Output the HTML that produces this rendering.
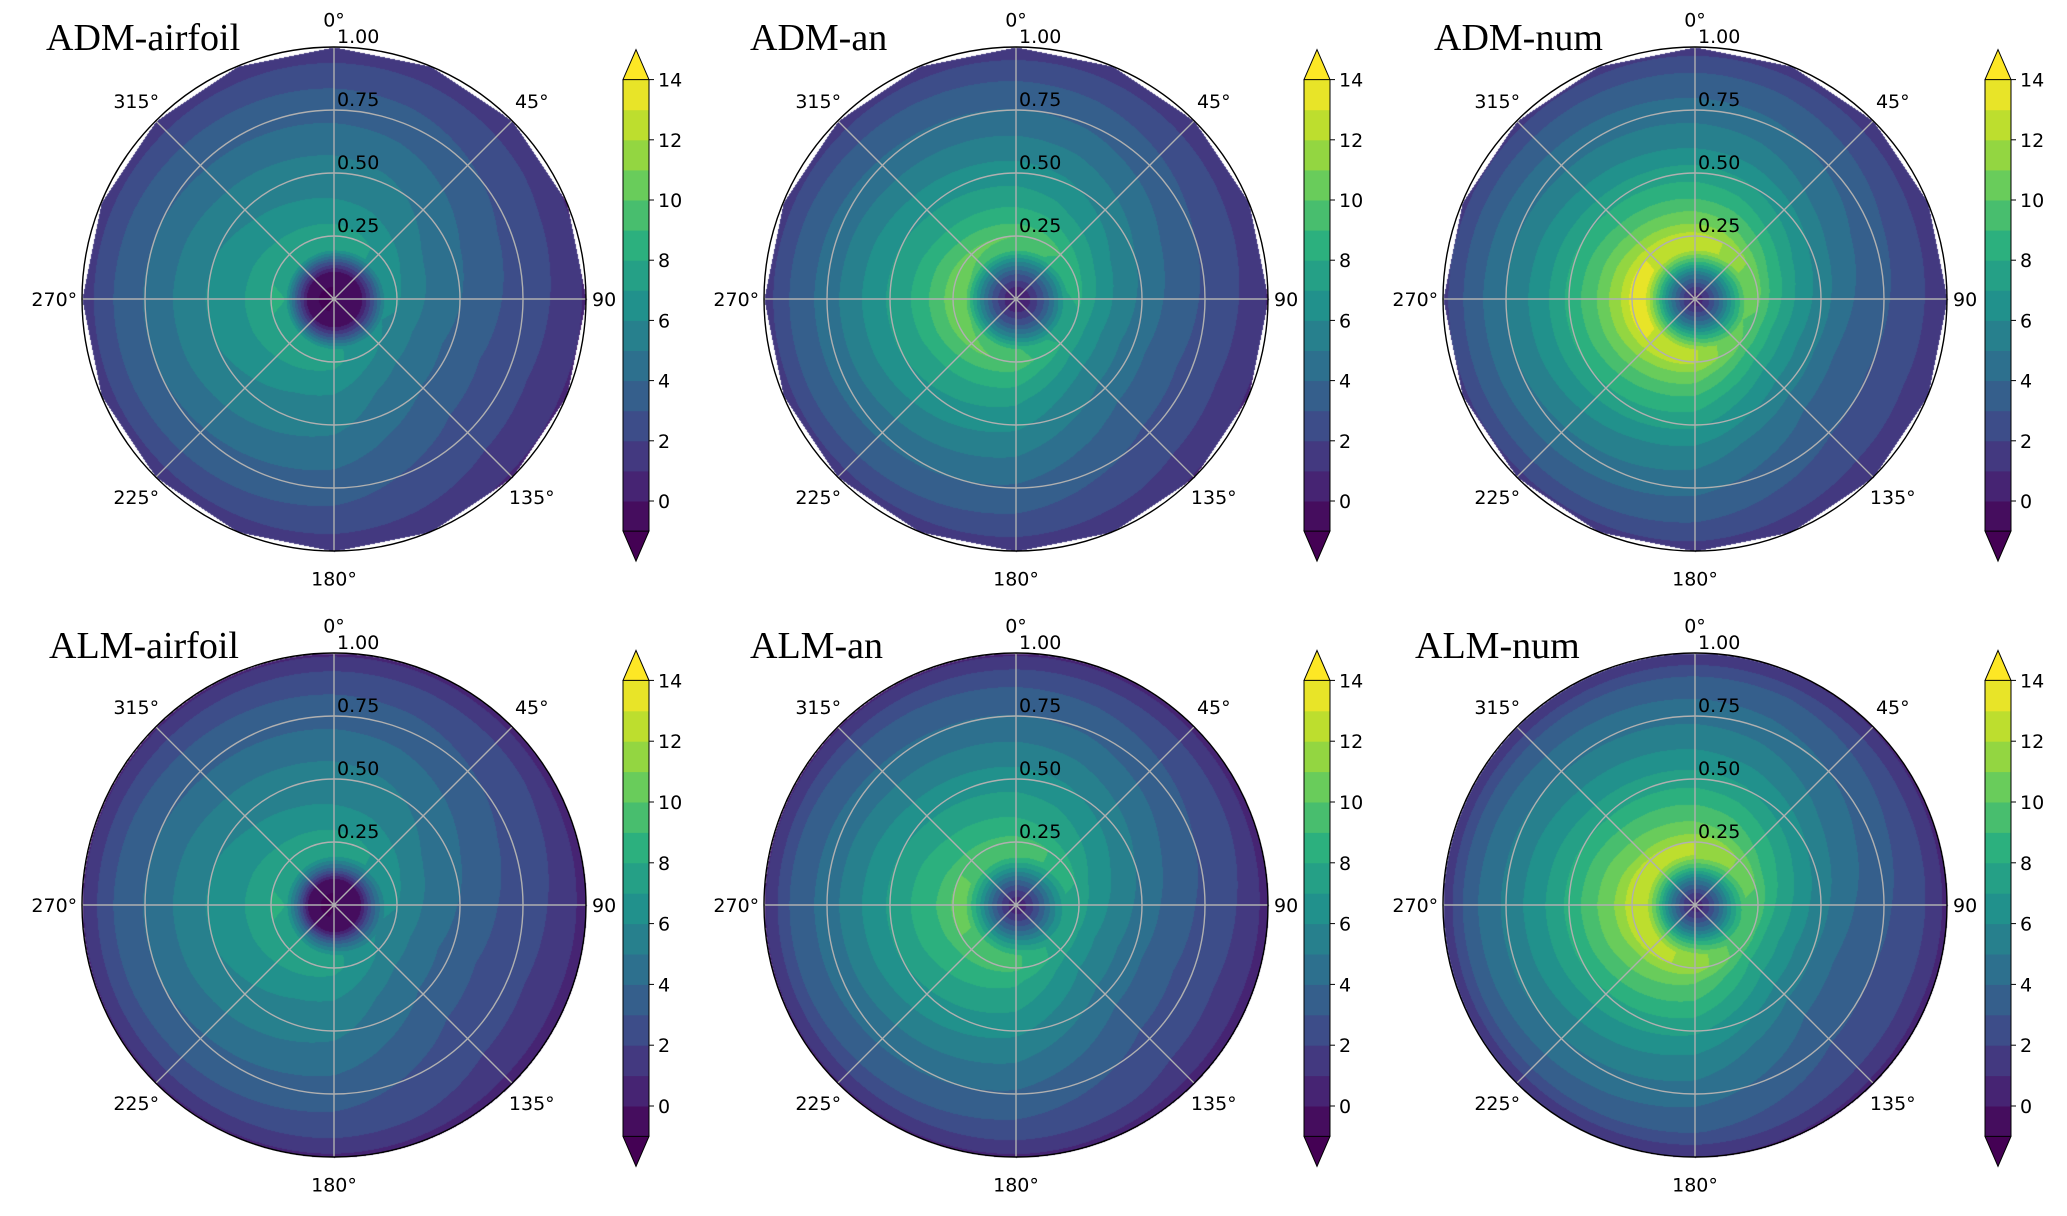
<!DOCTYPE html>
<html><head><meta charset="utf-8"><style>
html,body{margin:0;padding:0;background:#fff;}
#wrap{position:relative;width:2067px;height:1216px;overflow:hidden;}
canvas,svg{position:absolute;left:0;top:0;}
text{font-family:"DejaVu Sans","Liberation Sans",sans-serif;font-size:19px;fill:#000;}
.title{font-family:"Liberation Serif","DejaVu Serif",serif;font-size:38px;}
</style></head><body>
<div id="wrap">
<canvas id="cv" width="2067" height="1216"></canvas>
<svg id="sv" width="2067" height="1216" xmlns="http://www.w3.org/2000/svg"></svg>
</div>
<script>
// ---- data ----
const radii = [0,0.05,0.1,0.15,0.2,0.25,0.3,0.4,0.5,0.6,0.7,0.8,0.9,1.0];
const anglesDeg = [0,22.5,45,67.5,90,112.5,135,157.5,180,202.5,225,247.5,270,292.5,315,337.5];
const panelTitles = ["ADM-airfoil","ADM-an","ADM-num","ALM-airfoil","ALM-an","ALM-num"];
const profAdmAirfoil = [-1,-1,-0.8,3,7.5,7.5,7,6,5.5,4.8,4,3.3,2.5,1.2];
const profAdmAn = [0,1,3,6,9.5,10,9,7.5,6.5,5.5,4.5,3.6,2.7,1.3];
const profAdmNum = [0,2,5,9,12.5,12.5,11,9,7.5,6,5,4,3,1.5];
const profAlmAirfoil = [-1,-1,-0.5,4,7.5,7.5,7,6,5.5,4.8,4,3.3,2.5,0.8];
const profAlmAn = [0,1.5,4,7,9.5,9.5,8.5,7.5,6.5,5.5,4.5,3.6,2.7,0.8];
const profAlmNum = [0,2,5,9,12,12,10.5,9,7.5,6.2,5.2,4.2,3.2,1];
const angAdm = [1.0,0.95,0.85,0.75,0.7,0.65,0.68,0.8,0.95,1.0,1.05,1.1,1.12,1.1,1.05,1.02];
const angAlm = [1.0,0.95,0.85,0.75,0.68,0.63,0.66,0.8,0.95,1.0,1.05,1.1,1.12,1.1,1.05,1.02];
const cbarTicks = [0,2,4,6,8,10,12,14];
const levelMin = -1, levelMax = 14;
const rTicks = [0.25,0.5,0.75];
const rTickLabels = ["0.25","0.50","0.75","1.00"];
const thetaLabels = ["0°","45°","90","135°","180°","225°","270°","315°"];

const profiles = [profAdmAirfoil,profAdmAn,profAdmNum,profAlmAirfoil,profAlmAn,profAlmNum];
const angFactors = [angAdm,angAdm,angAdm,angAlm,angAlm,angAlm];

// ---- layout ----
const R = 252;
const colX = [334,1016,1695];
const rowY = [299,905];
const cbX = [623,1304,1985];
const cbZeroY = [501,1106];
const cbUnit = [30.1,30.4];
const titlePos = [[46,50],[750,50],[1434,50],[49,658],[750,658],[1415,658]];

const vir = [[68,1,84],[71,45,123],[59,82,139],[44,114,142],[33,145,140],[40,174,128],[94,201,98],[173,220,48],[253,231,37]];
function viridis(t){t=Math.max(0,Math.min(1,t));const s=t*8,i=Math.min(7,Math.floor(s)),f=s-i;const a=vir[i],b=vir[i+1];return [a[0]+(b[0]-a[0])*f,a[1]+(b[1]-a[1])*f,a[2]+(b[2]-a[2])*f].map(Math.round);}
const nBands = levelMax-levelMin;
function bandColor(v){
  if(v<levelMin) return viridis(0);
  if(v>=levelMax) return viridis(1);
  const k=Math.floor(v-levelMin);
  return viridis((k+0.5)/nBands);
}
function interp(xs,ys,x){
  if(x<=xs[0])return ys[0];
  for(let i=1;i<xs.length;i++){if(x<=xs[i]){const f=(x-xs[i-1])/(xs[i]-xs[i-1]);return ys[i-1]+(ys[i]-ys[i-1])*f;}}
  return ys[ys.length-1];
}
function angInterp(arr,deg){
  const s=deg/22.5,i=Math.floor(s)%16,f=s-Math.floor(s);return arr[i]+(arr[(i+1)%16]-arr[i])*f;
}

// ---- draw fields ----
const ctx=document.getElementById('cv').getContext('2d');
const img=ctx.createImageData(2067,1216);
const d=img.data;
for(let i=0;i<d.length;i+=4){d[i]=255;d[i+1]=255;d[i+2]=255;d[i+3]=255;}
const cosHalf=Math.cos(Math.PI/16);
for(let p=0;p<6;p++){
  const cx=colX[p%3],cy=rowY[Math.floor(p/3)],poly=p<3;
  for(let y=Math.floor(cy-R);y<=cy+R;y++){
    for(let x=Math.floor(cx-R);x<=cx+R;x++){
      const dx=x-cx,dy=y-cy,rr=Math.sqrt(dx*dx+dy*dy)/R;
      if(rr>1)continue;
      let th=Math.atan2(dx,-dy)*180/Math.PI;if(th<0)th+=360;
      if(poly){const a=((th%22.5)-11.25)*Math.PI/180;if(rr*Math.cos(a)>cosHalf)continue;}
      const f=angInterp(angFactors[p],th);
      const w=0.35+0.65*Math.min(1,rr/0.6);
      const v=interp(radii,profiles[p],rr)*(1+(f-1)*w);
      const c=bandColor(v);const o=(y*2067+x)*4;d[o]=c[0];d[o+1]=c[1];d[o+2]=c[2];
    }
  }
}
ctx.putImageData(img,0,0);

// ---- overlay ----
const NS="http://www.w3.org/2000/svg";
const sv=document.getElementById('sv');
function mk(tag,attrs,parent){const e=document.createElementNS(NS,tag);for(const k in attrs)e.setAttribute(k,attrs[k]);(parent||sv).appendChild(e);return e;}
for(let p=0;p<6;p++){
  const row=Math.floor(p/3);
  const cx=colX[p%3],cy=rowY[row];
  const g=mk('g',{});
  
  
  rTicks.forEach(rv=>{const c=mk('circle',{cx:cx,cy:cy,r:rv*R,fill:'none',stroke:'#b0b0b0','stroke-width':1.4},g);
    });
  for(let k=0;k<8;k++){const a=k*Math.PI/4;const l=mk('line',{x1:cx,y1:cy,x2:cx+R*Math.sin(a),y2:cy-R*Math.cos(a),stroke:'#b0b0b0','stroke-width':1.4},g);
    }
  const oc=mk('circle',{cx:cx,cy:cy,r:R,fill:'none',stroke:'#000','stroke-width':1.4},g);
  
  [0.25,0.5,0.75,1.0].forEach((rv,i)=>{const t=mk('text',{x:cx+3,y:cy-rv*R-4},g);t.textContent=rTickLabels[i];
    });
  for(let k=0;k<8;k++){const a=k*Math.PI/4;const rl=R*1.11;
    const t=mk('text',{x:cx+rl*Math.sin(a),y:cy-rl*Math.cos(a)+7,'text-anchor':k==2?'start':'middle'},g);
    if(k==2)t.setAttribute('x',cx+R+6);
    t.textContent=thetaLabels[k];
    }
  const tt=mk('text',{x:titlePos[p][0],y:titlePos[p][1],'class':'title'},g);tt.textContent=panelTitles[p];
  
  // colorbar
  const bx=cbX[p%3],bw=26;
  const yOf=v=>cbZeroY[row]-v*cbUnit[row];
  const cb=mk('g',{},sv);
  
  for(let k=0;k<nBands;k++){const v0=levelMin+k;const c=bandColor(v0+0.5);
    const r=mk('rect',{x:bx,y:yOf(v0+1),width:bw,height:yOf(v0)-yOf(v0+1)+0.5,fill:`rgb(${c})`},cb);
    }
  const ct=bandColor(levelMax+1),cl=bandColor(levelMin-1);
  const tri1=mk('polygon',{points:`${bx},${yOf(levelMax)} ${bx+bw/2},${yOf(levelMax)-30} ${bx+bw},${yOf(levelMax)}`,fill:`rgb(${ct})`,stroke:'#000','stroke-width':1},cb);
  
  const tri2=mk('polygon',{points:`${bx},${yOf(levelMin)} ${bx+bw/2},${yOf(levelMin)+30} ${bx+bw},${yOf(levelMin)}`,fill:`rgb(${cl})`,stroke:'#000','stroke-width':1},cb);
  
  mk('line',{x1:bx,y1:yOf(levelMax),x2:bx,y2:yOf(levelMin),stroke:'#000','stroke-width':1},cb);
  mk('line',{x1:bx+bw,y1:yOf(levelMax),x2:bx+bw,y2:yOf(levelMin),stroke:'#000','stroke-width':1},cb);
  cbarTicks.forEach(v=>{mk('line',{x1:bx+bw,y1:yOf(v),x2:bx+bw+5,y2:yOf(v),stroke:'#000','stroke-width':1},cb);
    const t=mk('text',{x:bx+bw+9,y:yOf(v)+7},cb);t.textContent=v;
    });
}
</script>
</body></html>
